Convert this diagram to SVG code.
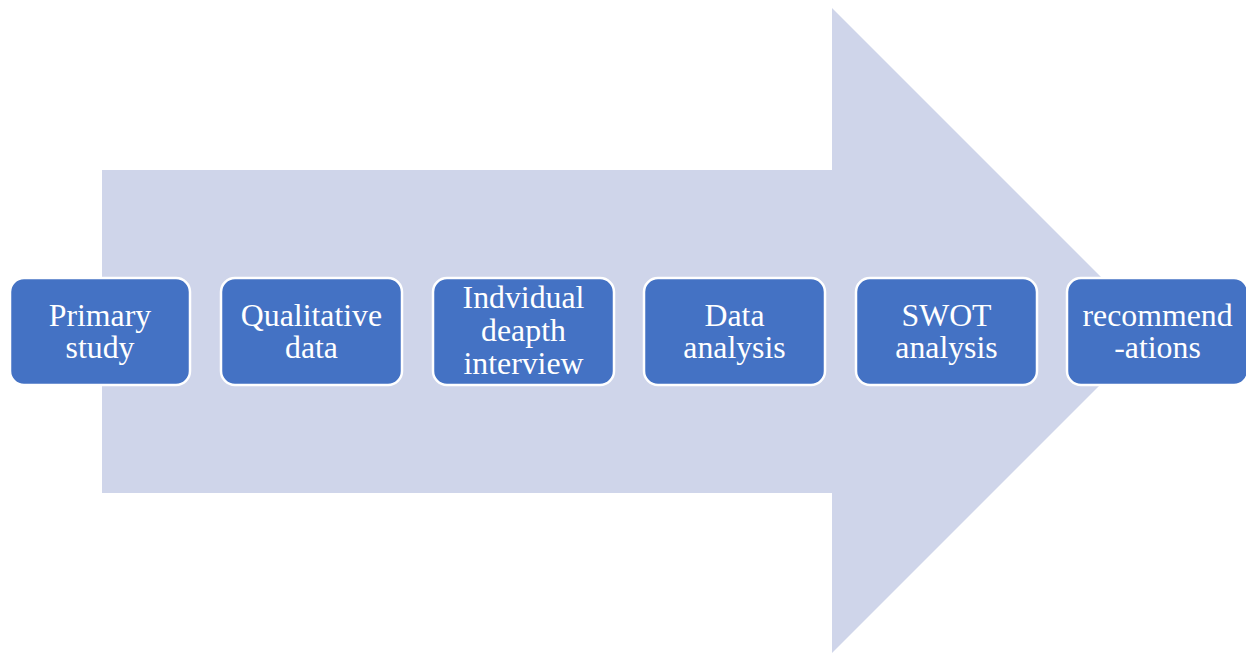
<svg xmlns="http://www.w3.org/2000/svg" width="1246" height="653" viewBox="0 0 1246 653">
<style>
.box{fill:#4472C4;stroke:#FFFFFF;stroke-width:2.5}
.t{font-family:"Liberation Serif","Times New Roman",serif;font-size:31.8px;fill:#FFFFFF;text-anchor:middle}
</style>
<rect width="1246" height="653" fill="#FFFFFF"/>
<g id="arrow">
<polygon points="102,170 832,170 832,8 1154.5,330.5 832,653 832,493 102,493" fill="#CFD5EA"/>
</g>
<g id="connectors"></g>
<g id="n1"><rect class="box" x="10" y="278" width="180" height="107" rx="14"/>
<text class="t" x="100" y="326">Primary</text><text class="t" x="100" y="358">study</text></g>
<g id="n2"><rect class="box" x="221" y="278" width="181" height="107" rx="14"/>
<text class="t" x="311.5" y="326">Qualitative</text><text class="t" x="311.5" y="358">data</text></g>
<g id="n3"><rect class="box" x="433" y="278" width="181" height="107" rx="14"/>
<text class="t" x="523.5" y="308">Indvidual</text><text class="t" x="523.5" y="341">deapth</text><text class="t" x="523.5" y="374">interview</text></g>
<g id="n4"><rect class="box" x="644" y="278" width="181" height="107" rx="14"/>
<text class="t" x="734.5" y="326">Data</text><text class="t" x="734.5" y="358">analysis</text></g>
<g id="n5"><rect class="box" x="856" y="278" width="181" height="107" rx="14"/>
<text class="t" x="946.5" y="326">SWOT</text><text class="t" x="946.5" y="358">analysis</text></g>
<g id="n6"><rect class="box" x="1067" y="278" width="181" height="107" rx="14"/>
<text class="t" x="1157.5" y="326">recommend</text><text class="t" x="1157.5" y="358">-ations</text></g>
</svg>
